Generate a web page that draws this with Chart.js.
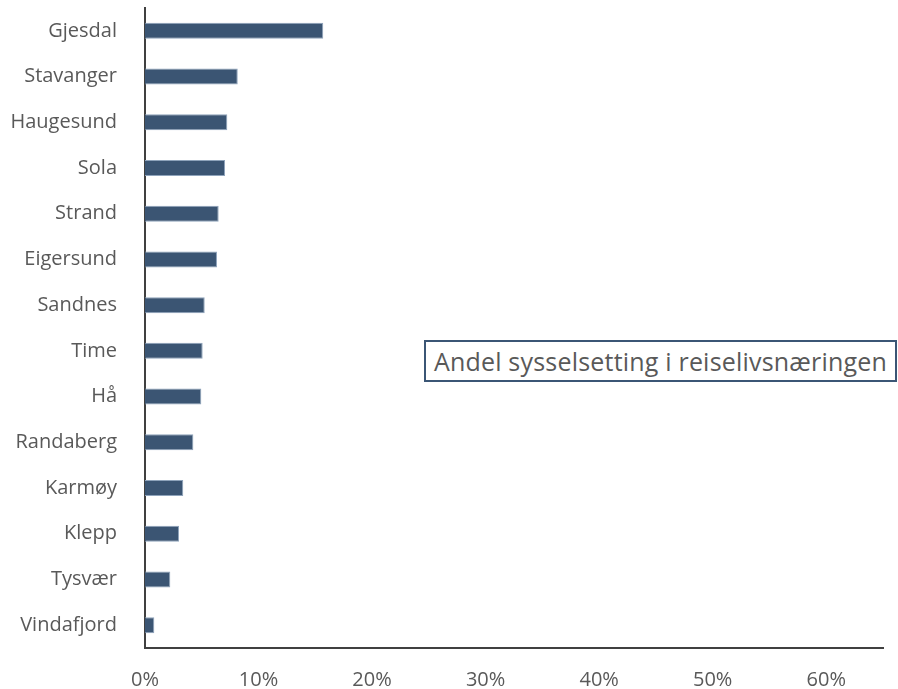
<!DOCTYPE html>
<html>
<head>
<meta charset="utf-8">
<script src="https://cdn.jsdelivr.net/npm/chart.js@4"></script>
<style>
  html, body { margin: 0; padding: 0; background: #fff; }
  #wrap { position: relative; width: 898px; height: 689px; }
  #note {
    position: absolute; left: 424px; top: 340px; width: 469px; height: 38px;
    border: 2px solid #3b5675; box-sizing: content-box;
    font-family: "Open Sans", sans-serif; font-size: 25px; color: #595959;
    line-height: 38px; text-align: center; white-space: nowrap; background: #fff;
    letter-spacing: 0.2px;
  }
</style>
</head>
<body>
<div id="wrap">
  <canvas id="chart" width="898" height="689"></canvas>
  <div id="note">Andel sysselsetting i reiselivsnæringen</div>
</div>
<script>
// -------------------- data
var kommuner = ['Gjesdal','Stavanger','Haugesund','Sola','Strand','Eigersund','Sandnes','Time','Hå','Randaberg','Karmøy','Klepp','Tysvær','Vindafjord'];
var andel = [0.157, 0.0817, 0.0725, 0.0705, 0.0649, 0.0634, 0.0526, 0.0508, 0.0496, 0.0426, 0.0337, 0.030, 0.0223, 0.0082];
var xTicks = [0, 0.1, 0.2, 0.3, 0.4, 0.5, 0.6];

var txt = '#595959';
var fnt = { family: 'Open Sans', size: 20 };

// chart.js adds tick padding on the other side too, drop it
function noPad(s){ s.paddingTop = 0; s.paddingBottom = 0; s.paddingLeft = 0; s.paddingRight = 0; }

var ctx = document.getElementById('chart').getContext('2d');
window.chart = new Chart(ctx, {
  type: 'bar',
  data: {
    labels: kommuner,
    datasets: [{
      data: andel,
      backgroundColor: '#3b5573',
      borderColor: '#8ea3bb',
      borderWidth: 1,
      borderSkipped: 'left',
      barPercentage: 0.35,
      categoryPercentage: 1
    }]
  },
  options: {
    indexAxis: 'y',
    responsive: false,
    animation: false,
    layout: { padding: { top: 8, right: 15, left: 0, bottom: 0 } },
    plugins: { legend: { display: false }, tooltip: { enabled: false } },
    scales: {
      x: {
        min: 0, max: 0.65,
        afterBuildTicks: function(s){ s.ticks = xTicks.map(function(v){ return { value: v }; }); },
        afterFit: function(s){ s.height = 41; noPad(s); },
        grid: { display: false, drawTicks: false },
        border: { display: true, color: '#404040', width: 2 },
        ticks: {
          color: txt, font: fnt, padding: 20,
          callback: function(v){ return Math.round(v * 100) + '%'; }
        }
      },
      y: {
        afterFit: function(s){ s.width = 145; noPad(s); },
        grid: { display: false, drawTicks: false },
        border: { display: true, color: '#404040', width: 2 },
        ticks: { color: txt, font: fnt, padding: 28 }
      }
    }
  }
});
</script>
</body>
</html>
